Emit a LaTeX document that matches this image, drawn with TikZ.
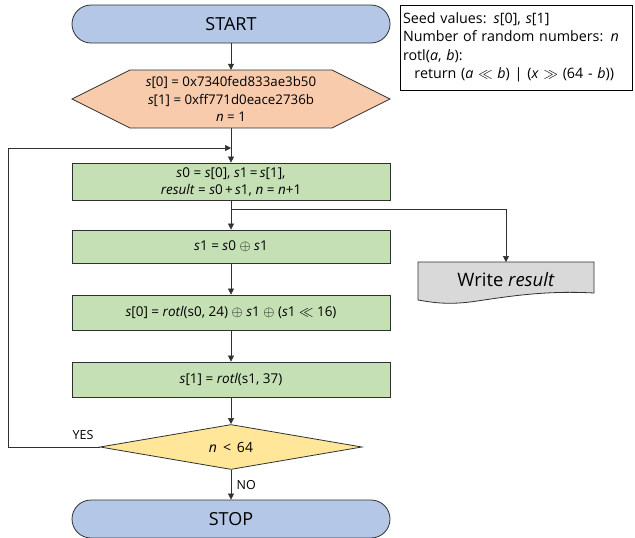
\documentclass[tikz,border=0pt]{standalone}
\usepackage{fontspec}
\setmainfont{Open Sans}
\usetikzlibrary{arrows.meta}
\usetikzlibrary{shapes.geometric}

\definecolor{termblue}{HTML}{B4C7E7}
\definecolor{initpeach}{HTML}{F8CBAD}
\definecolor{stepgreen}{HTML}{C5E0B4}
\definecolor{condyellow}{HTML}{FFE699}
\definecolor{outgray}{HTML}{D9D9D9}
\definecolor{edge}{HTML}{303030}

\newcommand{\iv}[1]{\textit{#1}}

\begin{document}
\begin{tikzpicture}[x=1pt,y=-1pt,
    >={Triangle[length=6pt,width=6pt]},
    line/.style={draw=edge,line width=0.6pt},
    term/.style={draw=edge,line width=0.8pt,fill=termblue,rounded corners=19pt,
        minimum width=318pt,minimum height=38pt,font=\fontsize{18}{21}\selectfont},
    stepbox/.style={draw=edge,line width=0.8pt,fill=stepgreen,
        minimum width=318pt,minimum height=35pt,align=center,
        font=\fontsize{13.5}{17}\selectfont}]
\useasboundingbox (0,0) rectangle (635,538);

% terminals
\node[term] (start) at (231,24) {START};
\node[term] (stop) at (231,519) {STOP};

% initial values
\draw[line,line width=0.8pt,fill=initpeach] (72,99) -- (130,70) -- (332,70)
    -- (390,99) -- (332,128) -- (130,128) -- cycle;
\node[minimum width=318pt,minimum height=58pt,align=center,
    font=\fontsize{13.3}{17.5}\selectfont] (init) at (231,99)
    {\iv{s}[0] = 0x7340fed833ae3b50\\ \iv{s}[1] = 0xff771d0eace2736b\\ \iv{n} = 1};

% steps
\node[stepbox,minimum height=37pt] (load) at (231,181.5)
    {\iv{s}0 = \iv{s}[0], \iv{s}1\,=\,\iv{s}[1],\\ \iv{result} = \iv{s}0\,+\,\iv{s}1, \iv{n} = \iv{n}+1};
\node[stepbox,minimum height=33pt] (mix) at (231,246.5)
    {\iv{s}1 = \iv{s}0 $\oplus$ \iv{s}1};
\node[stepbox] (upd0) at (231,312.5)
    {\iv{s}[0] = \iv{rotl}(s0, 24) $\oplus$ \iv{s}1 $\oplus$ (\iv{s}1 $\ll$ 16)};
\node[stepbox] (upd1) at (231,379.5)
    {\iv{s}[1] = \iv{rotl}(s1, 37)};

% condition
\node[diamond,draw=edge,line width=0.8pt,fill=condyellow,aspect=5.8,inner sep=0pt,
    minimum width=262pt,minimum height=45pt,font=\fontsize{14}{16}\selectfont]
    (cond) at (231,447) {\iv{n} \,<\, 64};

% output
\draw[line,line width=0.8pt,fill=outgray] (418,262) -- (594,262) -- (594,293)
    .. controls (540,290) and (500,298) .. (470,302)
    .. controls (445,305) and (430,302) .. (418,300) -- cycle;
\node[font=\fontsize{18.5}{21}\selectfont] (out) at (506,280) {Write \iv{result}};

% notes
\node[draw=black,line width=0.8pt,minimum width=232pt,minimum height=85pt,
    align=left,text width=226pt,inner sep=3pt,font=\fontsize{14.3}{18.5}\selectfont] (info) at (516,47.5)
    {Seed values: \iv{s}[0], \iv{s}[1]\\ Number of random numbers: \iv{n}\\
     rotl(\iv{a}, \iv{b}):\\ \hspace*{0.8em}return (\iv{a} $\ll$ \iv{b}) | (\iv{x} $\gg$ (64 - \iv{b}))};

% connectors
\coordinate (join) at (231,148);
\coordinate (fork) at (231,209);
\draw[line,->] (start) -- (init);
\draw[line,->] (init) -- (load);
\draw[line,->] (load) -- (mix);
\draw[line,->] (fork) -| (506,262);
\draw[line,->] (mix) -- (upd0);
\draw[line,->] (upd0) -- (upd1);
\draw[line,->] (upd1) -- (cond);
\draw[line,->] (cond) -- node[right,font=\fontsize{12.5}{14}\selectfont,xshift=2pt] {NO} (stop);
\draw[line,->] (cond.west) -- (8,447) |- (join);
\node[font=\fontsize{12.5}{14}\selectfont] (yes) at (83,435) {YES};
\end{tikzpicture}
\end{document}
